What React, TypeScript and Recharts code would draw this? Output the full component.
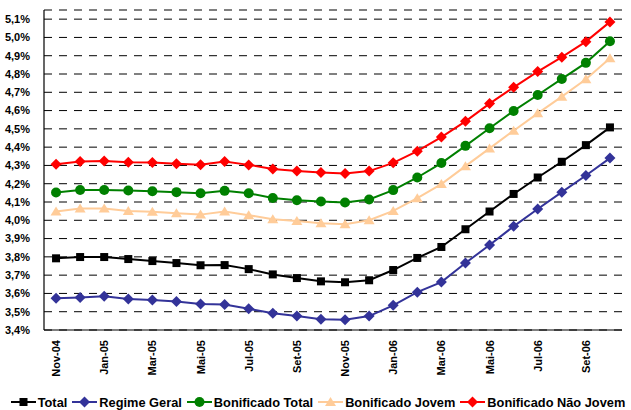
import React from 'react';
import {
  ComposedChart,
  Line,
  XAxis,
  YAxis,
  CartesianGrid,
  Legend,
} from 'recharts';

const months = [
  'Nov-04', 'Dez-04', 'Jan-05', 'Fev-05', 'Mar-05', 'Abr-05', 'Mai-05', 'Jun-05',
  'Jul-05', 'Ago-05', 'Set-05', 'Out-05', 'Nov-05', 'Dez-05', 'Jan-06', 'Fev-06',
  'Mar-06', 'Abr-06', 'Mai-06', 'Jun-06', 'Jul-06', 'Ago-06', 'Set-06', 'Out-06',
];

const total = [
  3.792, 3.799, 3.799, 3.788, 3.777, 3.766, 3.754, 3.755, 3.733, 3.704, 3.684, 3.666,
  3.661, 3.672, 3.728, 3.794, 3.854, 3.951, 4.048, 4.144, 4.234, 4.32, 4.411, 4.508,
];
const regimeGeral = [
  3.573, 3.578, 3.584, 3.569, 3.564, 3.556, 3.542, 3.54, 3.516, 3.492, 3.476, 3.459,
  3.456, 3.476, 3.535, 3.607, 3.662, 3.766, 3.865, 3.967, 4.062, 4.154, 4.245, 4.34,
];
const bonificadoTotal = [
  4.152, 4.166, 4.166, 4.163, 4.159, 4.154, 4.148, 4.161, 4.148, 4.122, 4.11, 4.103,
  4.097, 4.114, 4.165, 4.234, 4.313, 4.407, 4.503, 4.598, 4.685, 4.773, 4.861, 4.979,
];
const bonificadoJovem = [
  4.048, 4.064, 4.064, 4.051, 4.046, 4.039, 4.031, 4.048, 4.028, 4.006, 3.996, 3.984,
  3.978, 4.0, 4.051, 4.121, 4.198, 4.296, 4.393, 4.49, 4.585, 4.676, 4.771, 4.886,
];
const bonificadoNaoJovem = [
  4.307, 4.322, 4.324, 4.318, 4.316, 4.309, 4.304, 4.322, 4.303, 4.281, 4.269, 4.262,
  4.256, 4.269, 4.314, 4.378, 4.455, 4.541, 4.638, 4.727, 4.813, 4.892, 4.977, 5.085,
];

const yTicks = [
  3.4, 3.5, 3.6, 3.7, 3.8, 3.9, 4.0, 4.1, 4.2, 4.3, 4.4, 4.5, 4.6, 4.7, 4.8, 4.9, 5.0, 5.1,
];

const data = months.map((m, i) => ({
  month: m,
  total: total[i],
  regimeGeral: regimeGeral[i],
  bonificadoTotal: bonificadoTotal[i],
  bonificadoJovem: bonificadoJovem[i],
  bonificadoNaoJovem: bonificadoNaoJovem[i],
}));

const FONT = '"Liberation Sans", Arial, sans-serif';

type Shape = 'square' | 'diamond' | 'circle' | 'triangle';

const series: { key: string; name: string; color: string; shape: Shape }[] = [
  { key: 'total', name: 'Total', color: '#000000', shape: 'square' },
  { key: 'regimeGeral', name: 'Regime Geral', color: '#333399', shape: 'diamond' },
  { key: 'bonificadoTotal', name: 'Bonificado Total', color: '#008000', shape: 'circle' },
  { key: 'bonificadoJovem', name: 'Bonificado Jovem', color: '#FFCC99', shape: 'triangle' },
  { key: 'bonificadoNaoJovem', name: 'Bonificado Não Jovem', color: '#FF0000', shape: 'diamond' },
];

function marker(shape: Shape, cx: number, cy: number, color: string, key?: string | number) {
  switch (shape) {
    case 'square':
      return <rect key={key} x={cx - 4} y={cy - 4} width={8} height={8} fill={color} />;
    case 'diamond':
      return (
        <polygon
          key={key}
          points={`${cx},${cy - 5.5} ${cx + 5.5},${cy} ${cx},${cy + 5.5} ${cx - 5.5},${cy}`}
          fill={color}
        />
      );
    case 'circle':
      return <circle key={key} cx={cx} cy={cy} r={5} fill={color} />;
    case 'triangle':
    default:
      return (
        <polygon
          key={key}
          points={`${cx},${cy - 5} ${cx + 5.5},${cy + 4} ${cx - 5.5},${cy + 4}`}
          fill={color}
        />
      );
  }
}

const makeDot = (shape: Shape, color: string) => (props: any) => {
  const { cx, cy, index } = props;
  if (cx == null || cy == null) return <g key={index} />;
  return marker(shape, cx, cy, color, index);
};

const fmtPct = (v: number) => `${v.toFixed(1).replace('.', ',')}%`;

const MonthTick = (props: any) => {
  const { x, y, payload } = props;
  const ty = y + 2;
  return (
    <text
      x={x + 4}
      y={ty}
      transform={`rotate(-90, ${x + 4}, ${ty})`}
      textAnchor="end"
      fontFamily={FONT}
      fontWeight="bold"
      fontSize={11}
      fill="#000"
    >
      {payload.value}
    </text>
  );
};

const LegendContent = () => (
  <div
    style={{
      height: 24,
      boxSizing: 'border-box',
      paddingTop: 8,
      paddingLeft: 10,
      display: 'flex',
      justifyContent: 'center',
      alignItems: 'center',
      fontFamily: FONT,
      fontWeight: 'bold',
      fontSize: 12.8,
      color: '#000',
      whiteSpace: 'nowrap',
    }}
  >
    {series.map((s) => (
      <span key={s.key} style={{ display: 'inline-flex', alignItems: 'center', marginRight: 5 }}>
        <svg width={25} height={12} style={{ marginRight: 2 }}>
          <line x1={0} y1={6} x2={25} y2={6} stroke={s.color} strokeWidth={2} />
          {marker(s.shape, 12.5, 6, s.color)}
        </svg>
        <span>{s.name}</span>
      </span>
    ))}
  </div>
);

export default function App() {
  return (
    <div style={{ position: 'absolute', left: 0, top: 0, width: 631, height: 410, background: '#fff' }}>
      <ComposedChart
        width={631}
        height={410}
        data={data}
        margin={{ top: 10, right: 9, left: 0, bottom: 0 }}
      >
        <CartesianGrid
          vertical={false}
          stroke="#000"
          strokeDasharray="8 7"
          strokeWidth={1}
        />
        <XAxis
          dataKey="month"
          scale="band"
          interval={1}
          height={56}
          tickLine={false}
          axisLine={{ stroke: '#000', strokeWidth: 1.2 }}
          tick={<MonthTick />}
        />
        <XAxis
          xAxisId="top"
          dataKey="month"
          orientation="top"
          scale="band"
          height={0}
          tick={false}
          tickLine={false}
          axisLine={{ stroke: '#808080', strokeWidth: 1.5 }}
        />
        <YAxis
          type="number"
          domain={[3.4, 5.15]}
          ticks={yTicks}
          interval={0}
          width={44}
          tickLine={false}
          tickMargin={8}
          axisLine={{ stroke: '#000', strokeWidth: 1.2 }}
          tickFormatter={fmtPct}
          tick={{ fontFamily: FONT, fontWeight: 'bold', fontSize: 11, fill: '#000' }}
        />
        <YAxis
          yAxisId="right"
          type="number"
          orientation="right"
          domain={[3.4, 5.15]}
          width={0}
          tick={false}
          tickLine={false}
          axisLine={{ stroke: '#000', strokeWidth: 1.2 }}
        />
        <Legend
          verticalAlign="bottom"
          content={<LegendContent />}
          wrapperStyle={{ left: 0, width: 631, bottom: 0 }}
        />
        {series.map((s) => (
          <Line
            key={s.key}
            type="linear"
            dataKey={s.key}
            name={s.name}
            stroke={s.color}
            strokeWidth={2}
            dot={makeDot(s.shape, s.color)}
            activeDot={false}
            isAnimationActive={false}
          />
        ))}
      </ComposedChart>
    </div>
  );
}
